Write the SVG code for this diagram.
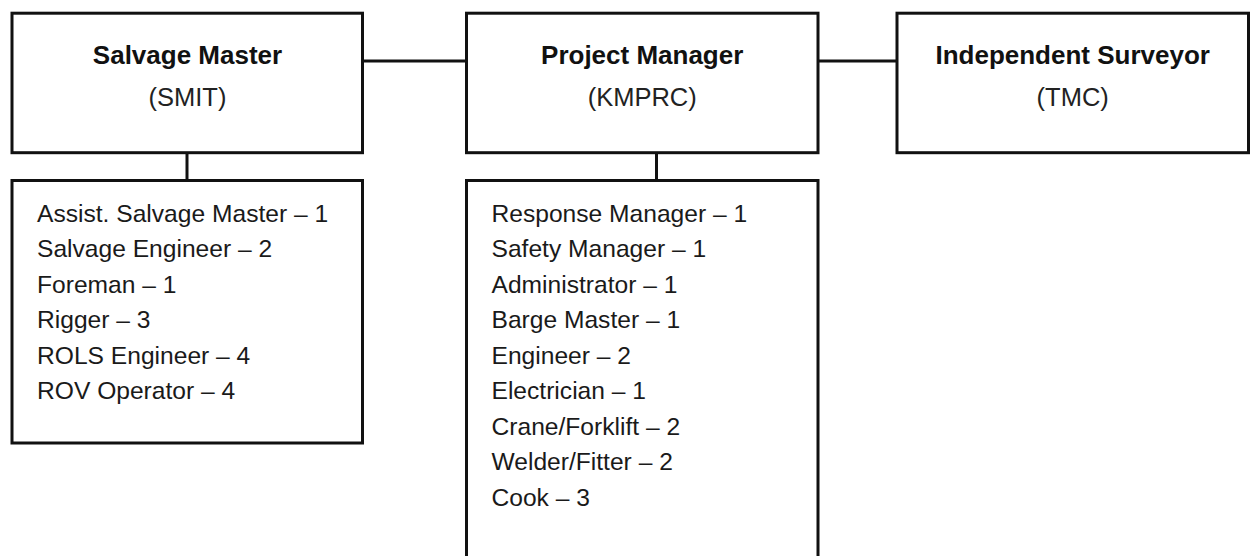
<svg xmlns="http://www.w3.org/2000/svg" width="1254" height="556" viewBox="0 0 1254 556">
  <style>
    .box { fill: #ffffff; stroke: #111111; stroke-width: 3; }
    .link { stroke: #111111; stroke-width: 3; fill: none; }
    .title { font-family: "Liberation Sans", Arial, sans-serif; font-size: 26px; font-weight: bold; fill: #111111; text-anchor: middle; }
    .org { font-family: "Liberation Sans", Arial, sans-serif; font-size: 25.5px; fill: #222222; text-anchor: middle; }
    .item { font-family: "Liberation Sans", Arial, sans-serif; font-size: 24.6px; fill: #1a1a1a; }
  </style>
  <rect width="1254" height="556" fill="#ffffff"/>

  <!-- connectors -->
  <g id="connectors">
    <line class="link" x1="362.5" y1="61" x2="466.5" y2="61"/>
    <line class="link" x1="818" y1="61" x2="897" y2="61"/>
    <line class="link" x1="187" y1="152.7" x2="187" y2="180.5"/>
    <line class="link" x1="656.5" y1="152.7" x2="656.5" y2="180.5"/>
  </g>

  <!-- Salvage Master -->
  <g id="salvage-master">
    <rect class="box" x="12" y="13.2" width="350.5" height="139.5"/>
    <text class="title" x="187.5" y="64">Salvage Master</text>
    <text class="org" x="187.5" y="106">(SMIT)</text>
  </g>

  <!-- Project Manager -->
  <g id="project-manager">
    <rect class="box" x="466.5" y="13.2" width="351.5" height="139.5"/>
    <text class="title" x="642.2" y="64">Project Manager</text>
    <text class="org" x="642.2" y="106">(KMPRC)</text>
  </g>

  <!-- Independent Surveyor -->
  <g id="independent-surveyor">
    <rect class="box" x="897" y="13.2" width="351.5" height="139.5"/>
    <text class="title" x="1072.7" y="64">Independent Surveyor</text>
    <text class="org" x="1072.7" y="106">(TMC)</text>
  </g>

  <!-- SMIT team -->
  <g id="smit-team">
    <rect class="box" x="12" y="180.5" width="350.5" height="262.5"/>
    <text class="item" x="37" y="221.7">Assist. Salvage Master – 1</text>
    <text class="item" x="37" y="257.2">Salvage Engineer – 2</text>
    <text class="item" x="37" y="292.7">Foreman – 1</text>
    <text class="item" x="37" y="328.2">Rigger – 3</text>
    <text class="item" x="37" y="363.7">ROLS Engineer – 4</text>
    <text class="item" x="37" y="399.2">ROV Operator – 4</text>
  </g>

  <!-- KMPRC team -->
  <g id="kmprc-team">
    <rect class="box" x="466.5" y="180.5" width="351.5" height="400"/>
    <text class="item" x="491.5" y="221.7">Response Manager – 1</text>
    <text class="item" x="491.5" y="257.2">Safety Manager – 1</text>
    <text class="item" x="491.5" y="292.7">Administrator – 1</text>
    <text class="item" x="491.5" y="328.2">Barge Master – 1</text>
    <text class="item" x="491.5" y="363.7">Engineer – 2</text>
    <text class="item" x="491.5" y="399.2">Electrician – 1</text>
    <text class="item" x="491.5" y="434.7">Crane/Forklift – 2</text>
    <text class="item" x="491.5" y="470.2">Welder/Fitter – 2</text>
    <text class="item" x="491.5" y="505.7">Cook – 3</text>
  </g>
</svg>
